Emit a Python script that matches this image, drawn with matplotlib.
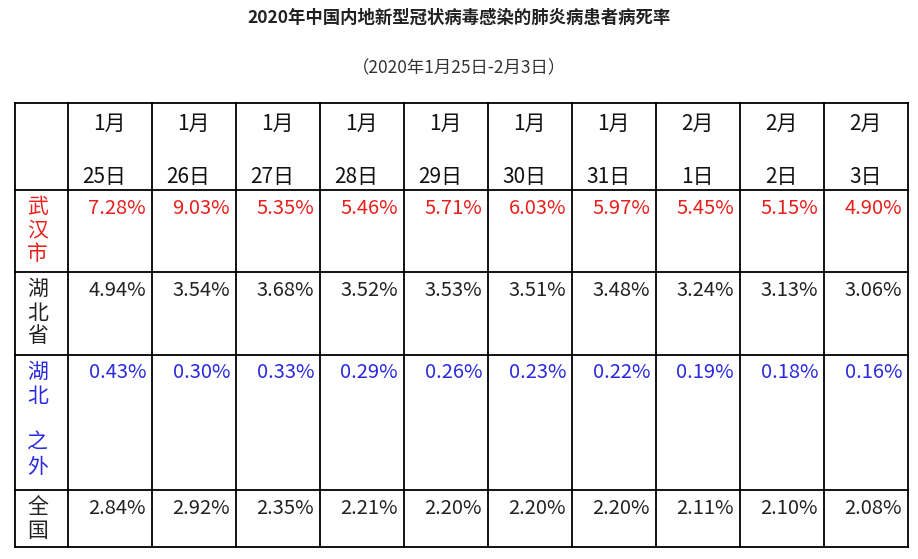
import matplotlib
matplotlib.use("Agg")
import matplotlib.pyplot as plt

plt.rcParams['font.family'] = ['Noto Sans CJK SC', 'DejaVu Sans']

months = ["1月"]*7 + ["2月"]*3
days = ["25日","26日","27日","28日","29日","30日","31日","1日","2日","3日"]
row_labels = ["武\n汉\n市", "湖\n北\n省", "湖\n北\n \n之\n外", "全\n国"]
row_colors = ["#e8201c", "#222222", "#2a2ae0", "#222222"]
wuhan = [7.28, 9.03, 5.35, 5.46, 5.71, 6.03, 5.97, 5.45, 5.15, 4.90]
hubei = [4.94, 3.54, 3.68, 3.52, 3.53, 3.51, 3.48, 3.24, 3.13, 3.06]
outside = [0.43, 0.30, 0.33, 0.29, 0.26, 0.23, 0.22, 0.19, 0.18, 0.16]
national = [2.84, 2.92, 2.35, 2.21, 2.20, 2.20, 2.20, 2.11, 2.10, 2.08]
rows = [wuhan, hubei, outside, national]

W, H = 918, 559
fig = plt.figure(figsize=(W/100, H/100), dpi=100)
ax = fig.add_axes([0, 0, 1, 1])
ax.set_xlim(0, W); ax.set_ylim(H, 0); ax.axis('off')

ax.text(459, 18, "2020年中国内地新型冠状病毒感染的肺炎病患者病死率", ha='center', va='center',
        fontsize=12.5, fontweight='bold', color='#222222')
ax.text(459, 68, "（2020年1月25日-2月3日）", ha='center', va='center', fontsize=12.5, color='#333333')

xs = [15, 68] + [68 + 84*(i+1) for i in range(10)]
ys = [103, 190, 272, 355, 490, 547]
for x in xs:
    ax.plot([x, x], [ys[0], ys[-1]], color='black', lw=1.3)
for y in ys:
    ax.plot([xs[0], xs[-1]], [y, y], color='black', lw=1.3)

for i in range(10):
    r = xs[i+1] + 58
    ax.text(r, 124, months[i], ha='right', va='center', fontsize=15, color='#111111')
    ax.text(r, 177, days[i], ha='right', va='center', fontsize=15, color='#111111')

for j, (lab, vals, c) in enumerate(zip(row_labels, rows, row_colors)):
    top = ys[j+1]
    ax.text(27, top + 6, lab, ha='left', va='top', fontsize=15, color=c, linespacing=1.1)
    for i, v in enumerate(vals):
        ax.text(xs[i+2] - 6, top + 18, f"{v:.2f}%", ha='right', va='center', fontsize=14.5, color=c)

fig.savefig("out.png", dpi=100)
